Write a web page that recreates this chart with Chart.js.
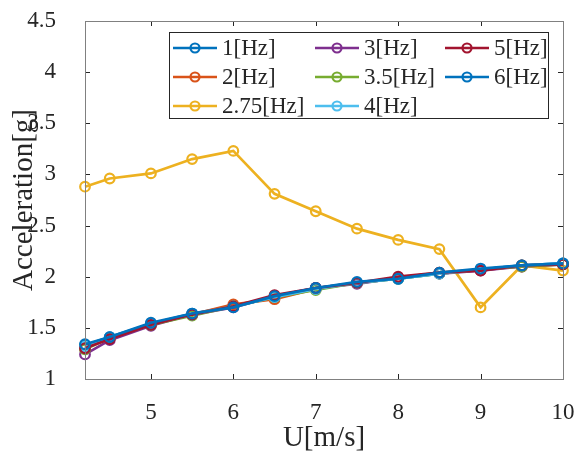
<!DOCTYPE html>
<html><head><meta charset="utf-8">
<script src="https://cdn.jsdelivr.net/npm/chart.js@4/dist/chart.umd.min.js"></script>
<style>html,body{margin:0;padding:0;background:#fff;}#wrap{width:585px;height:452px;position:relative;}</style>
</head><body><div id="wrap"><canvas id="c" width="585" height="452"></canvas></div>
<script>
const speeds = [4.2, 4.5, 5, 5.5, 6, 6.5, 7, 7.5, 8, 8.5, 9, 9.5, 10];
const seriesNames = ['1[Hz]', '2[Hz]', '2.75[Hz]', '3[Hz]', '3.5[Hz]', '4[Hz]', '5[Hz]', '6[Hz]'];
const acc1Hz   = [1.33, 1.41, 1.54, 1.64, 1.71, 1.80, 1.89, 1.94, 1.98, 2.03, 2.07, 2.11, 2.13];
const acc2Hz   = [1.31, 1.40, 1.53, 1.63, 1.73, 1.78, 1.88, 1.94, 1.99, 2.04, 2.07, 2.10, 2.12];
const acc275Hz = [2.88, 2.96, 3.01, 3.15, 3.23, 2.81, 2.64, 2.47, 2.36, 2.27, 1.70, 2.11, 2.06];
const acc3Hz   = [1.24, 1.38, 1.52, 1.63, 1.70, 1.81, 1.89, 1.93, 1.99, 2.03, 2.06, 2.10, 2.12];
const acc35Hz  = [1.29, 1.40, 1.53, 1.62, 1.71, 1.80, 1.87, 1.94, 1.98, 2.03, 2.07, 2.10, 2.12];
const acc4Hz   = [1.32, 1.41, 1.54, 1.63, 1.71, 1.80, 1.88, 1.94, 1.98, 2.03, 2.07, 2.11, 2.13];
const acc5Hz   = [1.30, 1.39, 1.53, 1.63, 1.71, 1.82, 1.89, 1.94, 2.00, 2.04, 2.06, 2.11, 2.12];
const acc6Hz   = [1.34, 1.41, 1.55, 1.64, 1.70, 1.81, 1.89, 1.95, 1.98, 2.04, 2.08, 2.11, 2.13];
const xTicks = [5, 6, 7, 8, 9, 10];
const yTicks = [1, 1.5, 2, 2.5, 3, 3.5, 4, 4.5];

const colors = ['#0072BD', '#D95319', '#EDB120', '#7E2F8E', '#77AC30', '#4DBEEE', '#A2142F', '#0072BD'];
const allSeries = [acc1Hz, acc2Hz, acc275Hz, acc3Hz, acc35Hz, acc4Hz, acc5Hz, acc6Hz];
const FONT = '"Liberation Serif", "Times New Roman", serif';
const FRAME = '#808080';

const datasets = allSeries.map((vals, i) => ({
  label: seriesNames[i],
  data: vals.map((v, j) => ({x: speeds[j], y: v})),
  borderColor: colors[i],
  backgroundColor: colors[i],
  borderWidth: 2.7,
  pointRadius: 4.8,
  pointBorderWidth: 2.2,
  pointBackgroundColor: 'rgba(0,0,0,0)',
  pointBorderColor: colors[i],
  tension: 0,
  fill: false,
  clip: false
})).reverse();

const legendCols = [[0, 1, 2], [3, 4, 5], [6, 7]];

function drawFrame(chart) {
  const ctx = chart.ctx;
  const a = chart.chartArea;
  const xs = chart.scales.x, ys = chart.scales.y;
  const L = Math.round(a.left), R = Math.round(a.right), T = Math.round(a.top), B = Math.round(a.bottom);
  ctx.save();
  ctx.lineWidth = 1;
  ctx.strokeStyle = '#262626';
  const tl = 5;
  ctx.beginPath();
  xTicks.forEach(t => {
    const px = Math.round(xs.getPixelForValue(t)) + 0.5;
    ctx.moveTo(px, B); ctx.lineTo(px, B - tl);
    ctx.moveTo(px, T); ctx.lineTo(px, T + tl);
  });
  yTicks.forEach(t => {
    const py = Math.round(ys.getPixelForValue(t)) + 0.5;
    ctx.moveTo(L, py); ctx.lineTo(L + tl, py);
    ctx.moveTo(R, py); ctx.lineTo(R - tl, py);
  });
  ctx.stroke();
  ctx.strokeStyle = FRAME;
  ctx.strokeRect(L + 0.5, T + 0.5, R - L, B - T);
  ctx.restore();
}

function drawLegend(chart) {
  const ctx = chart.ctx;
  ctx.save();
  const lx = 169, ly = 32, lw = 379, lh = 86;
  ctx.fillStyle = '#fff';
  ctx.fillRect(lx, ly, lw, lh);
  ctx.strokeStyle = '#262626';
  ctx.lineWidth = 1;
  ctx.strokeRect(lx + 0.5, ly + 0.5, lw, lh);
  const colX = [173, 315, 445];
  const rowY = [48, 77, 106];
  ctx.font = '23px ' + FONT;
  ctx.textBaseline = 'middle';
  ctx.textAlign = 'left';
  legendCols.forEach((col, c) => {
    col.forEach((si, r) => {
      const x0 = colX[c], y0 = rowY[r];
      ctx.strokeStyle = colors[si];
      ctx.lineWidth = 2.7;
      ctx.beginPath(); ctx.moveTo(x0, y0); ctx.lineTo(x0 + 44, y0); ctx.stroke();
      ctx.lineWidth = 2.2;
      ctx.beginPath(); ctx.arc(x0 + 22, y0, 4.5, 0, Math.PI * 2); ctx.stroke();
      ctx.fillStyle = '#262626';
      ctx.fillText(seriesNames[si], x0 + 49, y0 + 1);
    });
  });
  ctx.restore();
}

const framePlugin = {
  id: 'frameAndLegend',
  afterDraw(chart) {
    drawFrame(chart);
    drawLegend(chart);
  }
};

const hiddenTicks = len => ({ display: true, drawOnChartArea: false, drawTicks: true, tickLength: len, tickColor: 'rgba(0,0,0,0)', color: 'rgba(0,0,0,0)' });
const frameBorder = { display: true, color: FRAME, width: 1 };

new Chart(document.getElementById('c'), {
  type: 'line',
  data: { datasets },
  plugins: [framePlugin],
  options: {
    responsive: false,
    animation: false,
    devicePixelRatio: 1,
    layout: { padding: { left: 0, right: 22, top: 21, bottom: 0 } },
    plugins: { legend: { display: false }, tooltip: { enabled: false } },
    scales: {
      x: {
        type: 'linear', min: 4.2, max: 10,
        afterBuildTicks: s => { s.ticks = xTicks.map(v => ({value: v})); },
        afterFit: s => { s.height = 73; },
        grid: hiddenTicks(20),
        border: frameBorder,
        ticks: { font: { family: FONT, size: 23 }, color: '#262626', padding: 0, maxRotation: 0, autoSkip: false, callback: v => String(v) },
        title: { display: true, text: 'U[m/s]', font: { family: FONT, size: 29 }, color: '#262626', padding: { top: 0, bottom: -4 } }
      },
      y: {
        type: 'linear', min: 1, max: 4.5,
        afterBuildTicks: s => { s.ticks = yTicks.map(v => ({value: v})); },
        afterFit: s => { s.width = 85; },
        grid: hiddenTicks(29),
        border: frameBorder,
        ticks: { font: { family: FONT, size: 23 }, color: '#262626', padding: 0, autoSkip: false, callback: v => String(v) },
        title: { display: true, text: 'Acceleration[g]', font: { family: FONT, size: 29 }, color: '#262626', padding: { top: 7, bottom: 0 } }
      },
      xTop: {
        type: 'linear', position: 'top', min: 4.2, max: 10,
        afterFit: s => { s.height = 0; },
        grid: { display: false, drawTicks: false },
        border: frameBorder,
        ticks: { display: false }
      },
      yRight: {
        type: 'linear', position: 'right', min: 1, max: 4.5,
        afterFit: s => { s.width = 0; },
        grid: { display: false, drawTicks: false },
        border: frameBorder,
        ticks: { display: false }
      }
    }
  }
});
</script></body></html>
